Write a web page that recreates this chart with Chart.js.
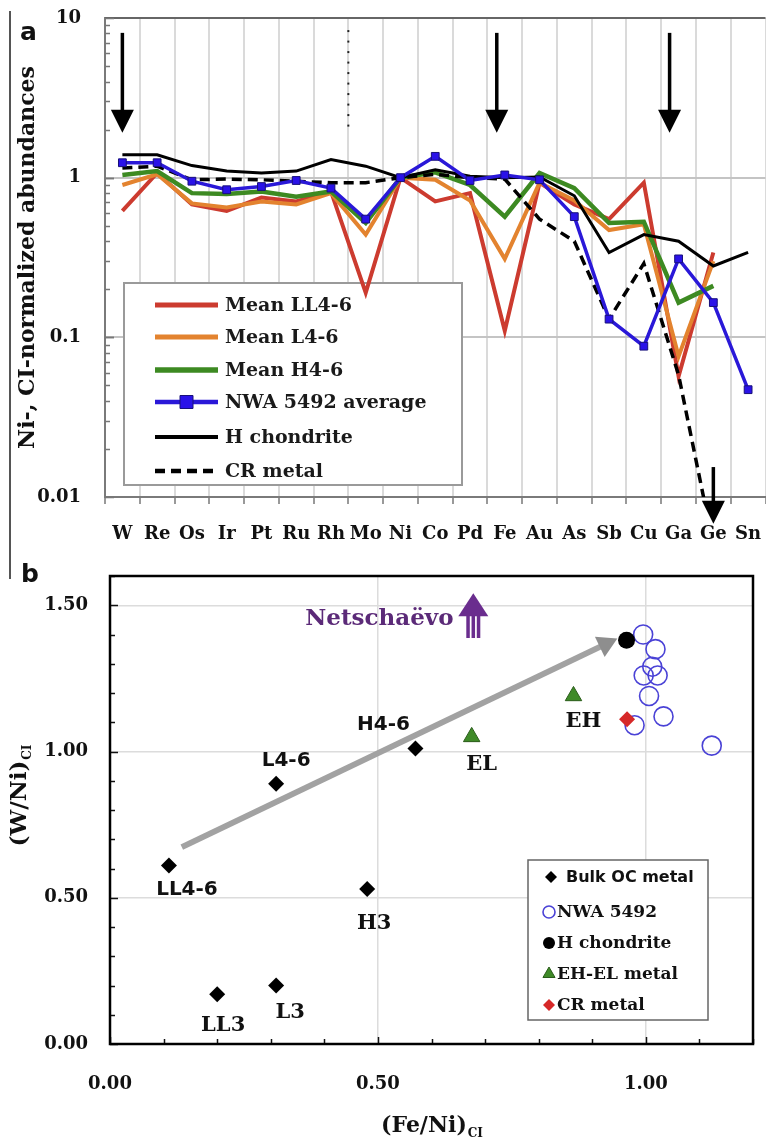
<!DOCTYPE html>
<html><head><meta charset="utf-8">
<script src="https://cdn.jsdelivr.net/npm/chart.js@4.4.0/dist/chart.umd.min.js"></script>
<style>
html,body{margin:0;padding:0;background:#fff;overflow:hidden;width:766px;height:1140px}
#wa{position:absolute;left:0;top:0;width:766px;height:560px;overflow:hidden}
#wb{position:absolute;left:0;top:560px;width:766px;height:580px;overflow:hidden}
#vline{position:absolute;left:9px;top:11px;width:1.5px;height:568px;background:#555;z-index:2}
canvas{display:block}
</style></head><body>
<div id="vline"></div>
<div id="wa"><canvas id="ca" width="772" height="560"></canvas></div>
<div id="wb"><canvas id="cb" width="766" height="580"></canvas></div>
<script>
// ---------------- Panel a data ----------------
const elements = ['W','Re','Os','Ir','Pt','Ru','Rh','Mo','Ni','Co','Pd','Fe','Au','As','Sb','Cu','Ga','Ge','Sn'];
const meanLL46   = [0.62,1.07,0.68,0.62,0.75,0.71,0.82,0.19,1.0,0.71,0.80,0.11,0.93,0.68,0.55,0.93,0.057,0.34,null];
const meanL46    = [0.90,1.05,0.69,0.65,0.71,0.68,0.80,0.44,1.0,0.97,0.72,0.31,0.93,0.72,0.47,0.51,0.076,0.30,null];
const meanH46    = [1.04,1.10,0.80,0.79,0.82,0.76,0.82,0.52,1.0,1.08,0.90,0.57,1.07,0.86,0.52,0.53,0.165,0.21,null];
const nwa5492Avg = [1.24,1.24,0.95,0.84,0.88,0.96,0.86,0.55,1.0,1.36,0.96,1.04,0.97,0.57,0.13,0.088,0.31,0.165,0.047];
const hChondriteA= [1.39,1.39,1.19,1.10,1.07,1.10,1.30,1.18,1.0,1.12,1.02,1.0,1.01,0.77,0.34,0.44,0.40,0.28,0.34];
const crMetalA   = [1.15,1.18,0.97,0.98,0.97,0.95,0.93,0.93,1.0,1.05,1.0,0.98,0.55,0.40,0.13,0.29,0.058,0.005,null];
const seriesNamesA = ['Mean LL4-6','Mean L4-6','Mean H4-6','NWA 5492 average','H chondrite','CR metal'];
const yTickValuesA = [0.01,0.1,1,10];
const yTickLabelsA = ['0.01','0.1','1','10'];

// ---------------- Panel b data ----------------
const bulkOcNames = ['LL4-6','L4-6','H4-6','H3','LL3','L3'];
const bulkOcFeNi  = [0.11,0.31,0.57,0.48,0.20,0.31];
const bulkOcWNi   = [0.61,0.89,1.01,0.53,0.17,0.20];
const nwaFeNi     = [0.995,1.018,1.012,0.996,1.022,1.006,1.033,0.979,1.123];
const nwaWNi      = [1.40,1.35,1.29,1.26,1.26,1.19,1.12,1.09,1.02];
const hChondFeNi  = [0.964];
const hChondWNi   = [1.38];
const ehElNames   = ['EL','EH'];
const ehElFeNi    = [0.675,0.865];
const ehElWNi     = [1.05,1.19];
const crFeNi      = [0.965];
const crWNi       = [1.11];
const trendFeNi   = [0.134,0.925];
const trendWNi    = [0.673,1.367];
const xTickValuesB = [0,0.5,1.0];
const xTickLabelsB = ['0.00','0.50','1.00'];
const yTickValuesB = [0,0.5,1.0,1.5];
const yTickLabelsB = ['0.00','0.50','1.00','1.50'];

const SERIF = "'DejaVu Serif', serif";
const SANS = "'DejaVu Sans', sans-serif";

function pts(xs, ys){ return xs.map((x,i)=>({x:x, y:ys[i]})); }
function noPad(s){ s.paddingTop=0; s.paddingBottom=0; s.paddingLeft=0; s.paddingRight=0; }

function marker(ctx, style, x, y, r, fill, stroke, lw){
  ctx.save();
  ctx.beginPath();
  if (style==='rectRot'){ ctx.moveTo(x, y-r); ctx.lineTo(x+r, y); ctx.lineTo(x, y+r); ctx.lineTo(x-r, y); ctx.closePath(); }
  else if (style==='triangle'){ ctx.moveTo(x, y-r); ctx.lineTo(x+r*0.866, y+r*0.5); ctx.lineTo(x-r*0.866, y+r*0.5); ctx.closePath(); }
  else if (style==='rect'){ ctx.rect(x-r, y-r, 2*r, 2*r); }
  else { ctx.arc(x, y, r, 0, Math.PI*2); }
  if (fill && fill!=='transparent'){ ctx.fillStyle=fill; ctx.fill(); }
  if (stroke && lw){ ctx.strokeStyle=stroke; ctx.lineWidth=lw; ctx.stroke(); }
  ctx.restore();
}

function drawArrowDown(ctx, x, y1, y2, shaftW, headW, headL){
  ctx.save();
  ctx.fillStyle='#000';
  ctx.fillRect(x-shaftW/2, y1, shaftW, (y2-headL)-y1+1);
  ctx.beginPath(); ctx.moveTo(x-headW/2, y2-headL); ctx.lineTo(x+headW/2, y2-headL); ctx.lineTo(x, y2); ctx.closePath(); ctx.fill();
  ctx.restore();
}

// ---------------- Panel a plugin ----------------
const panelAPlugin = {
  id: 'panelA',
  beforeDatasetsDraw(chart, args, o){
    const {ctx, chartArea: ca, scales:{x, y}} = chart;
    ctx.save();
    ctx.strokeStyle='#666'; ctx.lineWidth=2;
    ctx.beginPath(); ctx.moveTo(ca.left, ca.top); ctx.lineTo(ca.right, ca.top); ctx.stroke();
    ctx.strokeStyle='#777'; ctx.lineWidth=1.5;
    [0.01,0.1,1].forEach(d=>{ for(let m=1;m<=10;m++){
      const py=Math.round(y.getPixelForValue(m*d))+0.5;
      const len=(m===1||m===10)?9:5;
      ctx.beginPath(); ctx.moveTo(ca.left, py); ctx.lineTo(ca.left+len, py); ctx.stroke(); } });
    const dx=(x.getPixelForValue(6)+x.getPixelForValue(7))/2;
    ctx.fillStyle='#222';
    for(let py=y.getPixelForValue(o.dotted.from); py<=y.getPixelForValue(o.dotted.to); py+=10.5){ ctx.fillRect(dx-1, py, 2, 2); }
    const b=o.legendBox;
    ctx.fillStyle='#fff'; ctx.fillRect(b.x1, b.y1, b.x2-b.x1, b.y2-b.y1);
    ctx.strokeStyle='#9a9a9a'; ctx.lineWidth=2; ctx.strokeRect(b.x1, b.y1, b.x2-b.x1, b.y2-b.y1);
    ctx.font='bold '+o.legendFont+'px '+SERIF; ctx.textBaseline='middle'; ctx.fillStyle='#1a1a1a';
    chart.data.datasets.forEach((ds,i)=>{
      const ry=b.rowY[i];
      ctx.save();
      ctx.strokeStyle=ds.borderColor; ctx.lineWidth=ds.borderWidth+1;
      ctx.setLineDash(ds.borderDash||[]);
      ctx.beginPath(); ctx.moveTo(b.lineX1, ry); ctx.lineTo(b.lineX2, ry); ctx.stroke();
      ctx.restore();
      if (ds.pointRadius>0){ marker(ctx, ds.pointStyle, (b.lineX1+b.lineX2)/2, ry, ds.pointRadius+1, ds.pointBackgroundColor, ds.pointBorderColor, ds.pointBorderWidth); }
      ctx.fillStyle='#1a1a1a';
      ctx.fillText(ds.label, b.textX, ry+1);
    });
    ctx.restore();
  },
  afterDraw(chart, args, o){
    const {ctx, scales:{x, y}} = chart;
    o.arrows.forEach(a=>{
      drawArrowDown(ctx, x.getPixelForValue(a.cat)+a.dx, y.getPixelForValue(a.from), y.getPixelForValue(a.to), 3.5, 23, 23);
    });
    ctx.save();
    ctx.font='bold 25px '+SANS; ctx.fillStyle='#111'; ctx.textBaseline='alphabetic';
    ctx.fillText('a', 20, 40);
    ctx.restore();
  }
};

const lineDs = (label, data, color, width, extra) => Object.assign({
  label, data, borderColor: color, backgroundColor: color, borderWidth: width,
  pointRadius: 0, tension: 0, spanGaps: false, fill: false
}, extra||{});

const chartA = new Chart(document.getElementById('ca'), {
  type: 'line',
  data: {
    labels: elements,
    datasets: [
      lineDs(seriesNamesA[0], meanLL46, '#cc3b2f', 4, {order:5}),
      lineDs(seriesNamesA[1], meanL46, '#e3832f', 4, {order:4}),
      lineDs(seriesNamesA[2], meanH46, '#3d8a22', 4.5, {order:3}),
      lineDs(seriesNamesA[3], nwa5492Avg, '#2a18d8', 3.5, {order:0, pointRadius:5.5, pointStyle:'rect', pointBackgroundColor:'#2a12e8', pointBorderColor:'#18107a', pointBorderWidth:1}),
      lineDs(seriesNamesA[4], hChondriteA, '#000', 3, {order:2}),
      lineDs(seriesNamesA[5], crMetalA, '#000', 3.5, {order:1, borderDash:[10,6]})
    ]
  },
  options: {
    responsive: false, animation: false, events: [],
    layout: { padding: { top: 18, right: 0, left: 0, bottom: 0 } },
    plugins: {
      legend: { display: false }, tooltip: { enabled: false },
      panelA: {
        legendFont: 19,
        legendBox: { x1: 124, y1: 283, x2: 462, y2: 485, lineX1: 155, lineX2: 218, textX: 225, rowY: [305, 337, 370, 402, 437, 471] },
        dotted: { from: 8.4, to: 2.0 },
        arrows: [ {cat:0, dx:0, from:8.07, to:1.91}, {cat:11, dx:-8, from:8.07, to:1.91}, {cat:16, dx:-9, from:8.07, to:1.91}, {cat:17, dx:0, from:0.0154, to:0.0068} ]
      }
    },
    scales: {
      x: {
        type: 'category', offset: true,
        grid: { offset: true, color: '#dadada', lineWidth: 2, drawTicks: true, tickLength: 7, tickColor: '#999', tickWidth: 2 },
        border: { display: true, color: '#7a7a7a', width: 2 },
        ticks: { font: { family: SERIF, weight: 'bold', size: 18 }, color: '#111', padding: 20, maxRotation: 0, autoSkip: false },
        afterFit: s => { s.height = 63; noPad(s); }
      },
      y: {
        type: 'logarithmic', min: 0.01, max: 10,
        afterBuildTicks: s => { s.ticks = yTickValuesA.map(v => ({ value: v })); },
        ticks: { callback: (v, i) => yTickLabelsA[i], font: { family: SERIF, weight: 'bold', size: 18 }, color: '#111', padding: 24 },
        grid: { drawTicks: false, lineWidth: 2, color: c => (c.tick && (c.tick.value === 1 || c.tick.value === 0.1)) ? '#c4c4c4' : 'rgba(0,0,0,0)' },
        border: { display: true, color: '#7a7a7a', width: 2 },
        title: { display: true, text: 'Ni-, CI-normalized abundances', font: { family: SERIF, weight: 'bold', size: 22 }, color: '#111', padding: { top: 15, bottom: 0 } },
        afterFit: s => { s.width = 105; noPad(s); }
      }
    }
  },
  plugins: [panelAPlugin]
});

// ---------------- Panel b plugin ----------------
const panelBPlugin = {
  id: 'panelB',
  beforeDatasetsDraw(chart, args, o){
    const {ctx, chartArea: ca, scales:{x, y}} = chart;
    ctx.save();
    ctx.strokeStyle='#111'; ctx.lineWidth=1.5;
    for (let k=0;k<=12;k++){ const px=Math.round(x.getPixelForValue(k/10))+0.5; ctx.beginPath(); ctx.moveTo(px, ca.bottom); ctx.lineTo(px, ca.bottom-(k%5===0?7:5)); ctx.stroke(); }
    for (let k=0;k<=16;k++){ const py=Math.round(y.getPixelForValue(k/10))+0.5; ctx.beginPath(); ctx.moveTo(ca.left, py); ctx.lineTo(ca.left+(k%5===0?8:5), py); ctx.stroke(); }
    ctx.strokeStyle='#000'; ctx.lineWidth=2.5;
    ctx.strokeRect(ca.left, ca.top, ca.right-ca.left, ca.bottom-ca.top);
    ctx.restore();
  },
  afterDatasetsDraw(chart, args, o){
    const {ctx, chartArea: ca, scales:{x, y}} = chart;
    ctx.save();
    o.pointLabels.forEach(L=>{
      const ds = chart.data.datasets[L.dataset];
      ds.data.forEach((p,i)=>{
        const px=x.getPixelForValue(p.x)+L.offsets[i][0], py=y.getPixelForValue(p.y)+L.offsets[i][1];
        ctx.font='bold '+L.sizes[i]+'px '+(L.sans[i]?SANS:SERIF);
        ctx.fillStyle='#111'; ctx.textAlign='center'; ctx.textBaseline='middle';
        ctx.fillText(L.texts[i], px, py);
      });
    });
    const n=o.netsch;
    ctx.font='bold 23px '+SERIF; ctx.fillStyle='#5b2a78'; ctx.textAlign='right'; ctx.textBaseline='middle';
    ctx.fillText(n.text, x.getPixelForValue(n.textX), y.getPixelForValue(n.textY));
    const ax=x.getPixelForValue(n.arrowX), ab=y.getPixelForValue(n.arrowBase), at=y.getPixelForValue(n.arrowTip);
    const hb = at+23;
    ctx.fillStyle='#6a2d8e';
    ctx.beginPath(); ctx.moveTo(ax-15, hb); ctx.lineTo(ax+15, hb); ctx.lineTo(ax, at); ctx.closePath(); ctx.fill();
    ctx.fillRect(ax-7, hb-1, 3.5, ab-hb+1); ctx.fillRect(ax-1.75, hb-1, 3.5, ab-hb+1); ctx.fillRect(ax+3.5, hb-1, 3.5, ab-hb+1);
    const b=o.legendBox;
    ctx.fillStyle='#fff'; ctx.fillRect(b.x1, b.y1, b.x2-b.x1, b.y2-b.y1);
    ctx.strokeStyle='#666'; ctx.lineWidth=1.5; ctx.strokeRect(b.x1, b.y1, b.x2-b.x1, b.y2-b.y1);
    ctx.textAlign='left'; ctx.textBaseline='middle';
    b.items.forEach((it,k)=>{
      const ds=chart.data.datasets[it.dataset];
      marker(ctx, ds.pointStyle, it.mx, b.rowY[k], it.r, ds.pointBackgroundColor, ds.pointBorderColor, ds.pointBorderWidth);
      ctx.font='bold '+it.size+'px '+(it.sans?SANS:SERIF); ctx.fillStyle='#111';
      ctx.fillText(ds.label, it.tx, b.rowY[k]+1);
    });
    ctx.restore();
  },
  afterDraw(chart, args, o){
    const {ctx, chartArea: ca} = chart;
    ctx.save();
    ctx.fillStyle='#111'; ctx.textBaseline='alphabetic';
    const mainF='bold 22px '+SERIF, subF='bold 12px '+SERIF;
    ctx.font=mainF; const w1=ctx.measureText('(Fe/Ni)').width; ctx.font=subF; const w2=ctx.measureText('CI').width;
    const cx=(ca.left+ca.right)/2, x0=cx-(w1+w2)/2;
    ctx.font=mainF; ctx.textAlign='left'; ctx.fillText('(Fe/Ni)', x0, o.xTitleBaseline);
    ctx.font=subF; ctx.fillText('CI', x0+w1+1, o.xTitleBaseline+5);
    const mainY='bold 23px '+SERIF;
    ctx.font=mainY; const v1=ctx.measureText('(W/Ni)').width; ctx.font=subF; const v2=ctx.measureText('CI').width;
    ctx.translate(o.yTitleX, o.yTitleCenter); ctx.rotate(-Math.PI/2);
    const y0=-(v1+v2)/2;
    ctx.font=mainY; ctx.fillText('(W/Ni)', y0, 0);
    ctx.font=subF; ctx.fillText('CI', y0+v1+1, 5);
    ctx.restore();
    ctx.save();
    ctx.font='bold 25px '+SANS; ctx.fillStyle='#111';
    ctx.fillText('b', 21, 22);
    ctx.restore();
  }
};

const rotToward = (c) => {
  const ch=c.chart, xs=ch.scales && ch.scales.x, ys=ch.scales && ch.scales.y;
  if(!xs||!ys) return 0;
  const x0=xs.getPixelForValue(trendFeNi[0]), y0=ys.getPixelForValue(trendWNi[0]);
  const x1=xs.getPixelForValue(trendFeNi[1]), y1=ys.getPixelForValue(trendWNi[1]);
  return Math.atan2(y1-y0, x1-x0)*180/Math.PI + 90;
};

const chartB = new Chart(document.getElementById('cb'), {
  type: 'scatter',
  data: {
    datasets: [
      { label: 'trend', type: 'line', showLine: true, data: pts(trendFeNi, trendWNi), borderColor: '#a2a2a2', borderWidth: 6,
        pointStyle: 'triangle', pointRadius: c => c.dataIndex === 1 ? 13 : 0, pointBackgroundColor: '#8e8e8e', pointBorderColor: '#8e8e8e', pointBorderWidth: 0,
        pointRotation: rotToward, order: 9 },
      { label: 'Bulk OC metal', data: pts(bulkOcFeNi, bulkOcWNi), pointStyle: 'rectRot', pointRadius: 8, pointBackgroundColor: '#000', pointBorderColor: '#000', pointBorderWidth: 0, order: 5 },
      { label: 'NWA 5492', data: pts(nwaFeNi, nwaWNi), pointStyle: 'circle', pointRadius: 9.5, pointBackgroundColor: 'transparent', pointBorderColor: '#4a42d6', pointBorderWidth: 1.6, order: 4 },
      { label: 'H chondrite', data: pts(hChondFeNi, hChondWNi), pointStyle: 'circle', pointRadius: 8.5, pointBackgroundColor: '#000', pointBorderColor: '#000', pointBorderWidth: 0, order: 3 },
      { label: 'EH-EL metal', data: pts(ehElFeNi, ehElWNi), pointStyle: 'triangle', pointRadius: 9.5, pointBackgroundColor: '#3f8a28', pointBorderColor: '#2a5c1a', pointBorderWidth: 1, order: 2 },
      { label: 'CR metal', data: pts(crFeNi, crWNi), pointStyle: 'rectRot', pointRadius: 8, pointBackgroundColor: '#d62828', pointBorderColor: '#b01818', pointBorderWidth: 0, order: 1 }
    ]
  },
  options: {
    responsive: false, animation: false, events: [],
    layout: { padding: { top: 16, right: 4, left: 0, bottom: 0 } },
    plugins: {
      legend: { display: false }, tooltip: { enabled: false },
      panelB: {
        pointLabels: [
          { dataset: 1, texts: bulkOcNames, offsets: [[18,24],[10,-23],[-32,-24],[7,35],[6,31],[14,27]], sizes: [20,20,20,21,21,21], sans: [true,true,true,false,false,false] },
          { dataset: 4, texts: ehElNames, offsets: [[10,28],[10,26]], sizes: [21,21], sans: [false,false] }
        ],
        netsch: { text: 'Netschaëvo', textX: 0.641, textY: 1.452, arrowX: 0.678, arrowBase: 1.388, arrowTip: 1.541 },
        legendBox: { x1: 528, y1: 300, x2: 708, y2: 460, rowY: [317, 352, 383, 414, 445],
          items: [ {dataset:1, mx:551, r:6, tx:566, size:16, sans:true}, {dataset:2, mx:549, r:6, tx:557, size:17}, {dataset:3, mx:549, r:6, tx:557, size:17}, {dataset:4, mx:549, r:7, tx:557, size:17}, {dataset:5, mx:549, r:6, tx:557, size:17} ] },
        xTitleBaseline: 572, yTitleX: 26, yTitleCenter: 236
      }
    },
    scales: {
      x: {
        type: 'linear', min: 0, max: 1.2,
        afterBuildTicks: s => { s.ticks = xTickValuesB.map(v => ({ value: v })); },
        ticks: { callback: (v, i) => xTickLabelsB[i], font: { family: SERIF, weight: 'bold', size: 18 }, color: '#111', padding: 30, maxRotation: 0 },
        grid: { drawTicks: false, lineWidth: 1.5, color: c => (c.tick && c.tick.value > 0) ? '#dcdcdc' : 'rgba(0,0,0,0)' },
        border: { display: false },
        afterFit: s => { s.height = 96; noPad(s); }
      },
      y: {
        type: 'linear', min: 0, max: 1.6,
        afterBuildTicks: s => { s.ticks = yTickValuesB.map(v => ({ value: v })); },
        ticks: { callback: (v, i) => yTickLabelsB[i], font: { family: SERIF, weight: 'bold', size: 18 }, color: '#111', padding: 22 },
        grid: { drawTicks: false, lineWidth: 1.5, color: c => (c.tick && c.tick.value > 0) ? '#dcdcdc' : 'rgba(0,0,0,0)' },
        border: { display: false },
        afterFit: s => { s.width = 110; noPad(s); }
      }
    }
  },
  plugins: [panelBPlugin]
});
</script>
</body></html>
